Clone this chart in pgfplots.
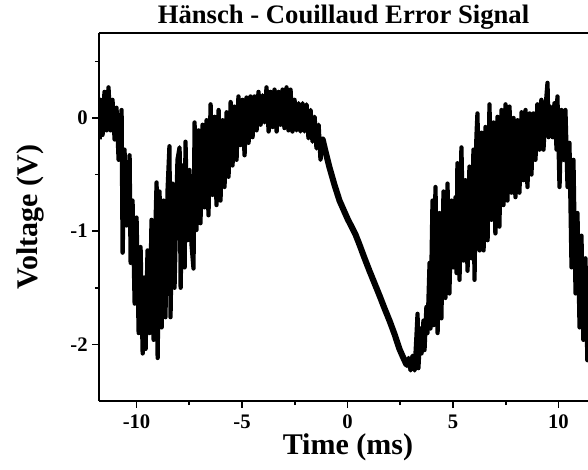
\documentclass[border=0pt]{standalone}
\usepackage{pgfplots}
\pgfplotsset{compat=1.18}
\usepackage{fontspec}
\setmainfont{Liberation Serif}
\begin{document}
\begin{tikzpicture}
\path[use as bounding box] (-74.25pt,-51.75pt) rectangle (366.75pt,300.75pt);
\begin{axis}[
  at={(0,0)}, anchor=south west,
  width=366.75pt, height=276pt, scale only axis,
  xmin=-11.78, xmax=11.4, ymin=-2.5, ymax=0.75,
  axis x line*=box, axis y line*=left,
  axis line style={line width=1.6pt},
  xtick pos=bottom, ytick pos=left,
  tick align=outside,
  major tick length=5pt, minor tick length=3pt,
  every tick/.style={line width=1.2pt, black},
  xtick={-10,-5,0,5,10}, xticklabels={-10,-5,0,5,10},
  ytick={-2,-1,0}, yticklabels={-2,-1,0},
  minor xtick={-7.5,-2.5,2.5,7.5},
  minor ytick={-1.5,-0.5,0.5},
  tick label style={font=\fontsize{15.5}{16}\selectfont\bfseries},
  xticklabel style={yshift=-2pt},
  every axis title shift=0pt,
  title={Hänsch - Couillaud Error Signal},
  title style={font=\fontsize{20}{22}\selectfont\bfseries, at={(axis description cs:0.5,1.027)}, anchor=base},
  xlabel={Time (ms)},
  xlabel style={font=\fontsize{22.5}{24}\selectfont\bfseries, at={(axis description cs:0.509,-0.1467)}, anchor=base},
  ylabel={Voltage (V)},
  ylabel style={font=\fontsize{22.5}{24}\selectfont\bfseries, at={(axis description cs:-0.125,0.5)}, anchor=base},
]
\addplot[black, line width=3.2pt, line join=round] coordinates {
(-11.75,-0.19) (-11.71,0.16) (-11.61,-0.15) (-11.52,0.23) (-11.42,-0.11) (-11.33,0.27) (-11.23,-0.11) (-11.14,0.16)
(-11.04,-0.19) (-10.95,0.09) (-10.85,-0.37) (-10.71,0.07) (-10.66,-1.19) (-10.57,-0.28) (-10.47,-0.95) (-10.33,-0.33)
(-10.28,-1.28) (-10.19,-0.73) (-10.09,-1.64) (-10.00,-0.88) (-9.90,-1.90) (-9.81,-1.14) (-9.71,-2.08) (-9.62,-1.41)
(-9.57,-2.04) (-9.48,-1.17) (-9.38,-1.90) (-9.29,-0.90) (-9.19,-1.96) (-9.10,-0.93) (-9.05,-0.57) (-9.00,-2.12)
(-8.91,-0.65) (-8.81,-1.85) (-8.72,-0.73) (-8.63,-1.76) (-8.53,-0.64) (-8.44,-0.25) (-8.39,-1.76) (-8.29,-0.58)
(-8.20,-1.50) (-8.06,-0.37) (-7.96,-0.26) (-7.91,-1.50) (-7.82,-0.42) (-7.72,-1.32) (-7.68,-0.21) (-7.58,-1.08)
(-7.49,-0.46) (-7.39,-1.13) (-7.30,-1.33) (-7.25,-0.04) (-7.16,-0.99) (-7.06,-0.11) (-6.97,-0.93) (-6.87,-0.06)
(-6.78,-0.79) (-6.68,-0.02) (-6.59,-0.86) (-6.49,0.12) (-6.40,-0.68) (-6.30,0.01) (-6.21,-0.77) (-6.11,0.07)
(-6.02,-0.73) (-5.92,-0.02) (-5.83,-0.61) (-5.73,0.05) (-5.64,-0.52) (-5.54,0.14) (-5.45,-0.42) (-5.36,0.10)
(-5.26,-0.37) (-5.17,0.19) (-5.07,-0.24) (-4.98,0.16) (-4.88,-0.33) (-4.79,0.18) (-4.69,-0.22) (-4.60,0.19)
(-4.50,-0.17) (-4.41,0.19) (-4.31,-0.11) (-4.22,0.23) (-4.12,-0.06) (-4.03,0.20) (-3.93,-0.04) (-3.84,0.27)
(-3.74,-0.12) (-3.65,0.23) (-3.55,-0.08) (-3.46,0.25) (-3.36,-0.12) (-3.27,0.23) (-3.18,-0.06) (-3.08,0.25)
(-2.99,-0.09) (-2.89,0.27) (-2.80,-0.11) (-2.70,0.25) (-2.61,-0.12) (-2.51,0.16) (-2.42,-0.11) (-2.32,0.13)
(-2.23,-0.12) (-2.13,0.13) (-2.04,-0.12) (-1.94,0.12) (-1.85,-0.18) (-1.75,0.07) (-1.66,-0.21) (-1.56,0.01)
(-1.47,-0.27) (-1.37,-0.06) (-1.28,-0.37) (-1.18,-0.19) (-1.04,-0.30)
};
\addplot[black, line width=4.6pt, line join=round, line cap=round] coordinates {
(-1.18,-0.19) (-1.04,-0.30) (-0.85,-0.44) (-0.62,-0.59) (-0.38,-0.73)
(-0.19,-0.81) (0.00,-0.89) (0.19,-0.96) (0.38,-1.03) (0.57,-1.12) (0.81,-1.24) (1.04,-1.35) (1.28,-1.46)
(1.52,-1.57) (1.75,-1.68) (1.99,-1.79) (2.23,-1.91) (2.46,-2.04) (2.65,-2.12) (2.80,-2.18) (2.89,-2.14)
(2.99,-2.20)
};
\addplot[black, line width=3.2pt, line join=round] coordinates {
(2.80,-2.18) (2.89,-2.12)
(2.99,-2.23) (3.08,-2.10) (3.18,-2.23) (3.27,-1.92) (3.32,-1.73) (3.36,-2.21) (3.46,-1.86) (3.51,-2.08)
(3.60,-1.79) (3.65,-2.05) (3.74,-1.67) (3.79,-1.90) (3.89,-1.28) (3.93,-1.86) (4.03,-0.73) (4.08,-1.83)
(4.17,-0.61) (4.27,-1.90) (4.36,-0.84) (4.45,-1.77) (4.55,-0.65) (4.64,-1.59) (4.74,-0.58) (4.83,-1.55)
(4.93,-0.73) (5.02,-1.32) (5.12,-0.70) (5.17,-1.37) (5.21,-0.40) (5.31,-1.43) (5.40,-0.26) (5.50,-1.26)
(5.59,-0.55) (5.69,-1.35) (5.78,-0.43) (5.88,-1.24) (5.97,-0.28) (6.02,-1.43) (6.11,-0.17) (6.16,0.04)
(6.26,-1.17) (6.35,-0.13) (6.45,-1.17) (6.54,-0.08) (6.64,-1.08) (6.73,0.12) (6.82,-0.90) (6.92,-0.04)
(7.01,-1.02) (7.11,0.01) (7.20,-0.96) (7.30,0.07) (7.39,-0.77) (7.49,0.12) (7.58,-0.73) (7.68,0.10)
(7.77,-0.66) (7.87,0.00) (7.96,-0.70) (8.06,-0.02) (8.15,-0.66) (8.25,0.05) (8.34,-0.55) (8.44,0.07)
(8.53,-0.61) (8.63,0.04) (8.72,-0.50) (8.81,0.04) (8.91,-0.37) (9.00,0.12) (9.10,-0.28) (9.19,0.16)
(9.29,-0.28) (9.38,0.07) (9.48,0.31) (9.53,-0.17) (9.62,0.10) (9.72,-0.17) (9.81,0.13) (9.91,-0.28)
(9.95,0.19) (10.05,-0.61) (10.14,0.07) (10.24,-0.37) (10.33,0.07) (10.43,-0.61) (10.52,-0.22) (10.62,-1.32)
(10.71,-0.37) (10.81,-1.55) (10.90,-0.84) (11.00,-1.85) (11.09,-1.04) (11.18,-1.96) (11.28,-1.24) (11.37,-2.14)
(11.47,-1.63) (11.56,-2.32)
};
\end{axis}
\end{tikzpicture}
\end{document}
